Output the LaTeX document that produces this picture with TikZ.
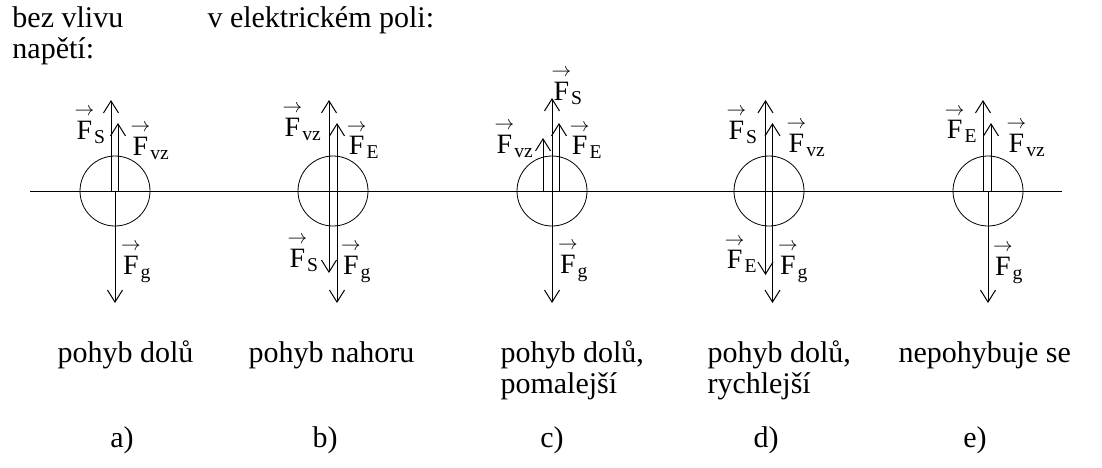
\documentclass[tikz,border=0pt]{standalone}
\usepackage{fix-cm}
\usepackage{amsmath}
\usepackage{fontspec}
\setmainfont{Liberation Serif}
\usetikzlibrary{arrows.meta}

\newcommand{\vF}[1]{${\overset{\scriptstyle\rightarrow}{\mathrm{F}}}_{\mathrm{#1}}$}

\begin{document}
\begin{tikzpicture}[x=1pt,y=-1pt,line width=1pt,
		every node/.style={font=\fontsize{30}{30}\selectfont,inner sep=0pt},
		lbl/.style={font=\fontsize{28}{28}\selectfont},
		ball/.style={draw,circle,minimum size=70pt,line width=0.8pt},
		force/.style={-{Straight Barb[length=12pt,width=15pt]}}]
		\useasboundingbox (0,0) rectangle (1102,467);
		\node[anchor=base west] (t1) at (12,27) {bez vlivu};
		\node[anchor=base west] (t2) at (12,58) {napětí:};
		\node[anchor=base west] (t3) at (207,27) {v elektrickém poli:};
		\coordinate (l0) at (30,191);
		\coordinate (l1) at (1062,191);
		\draw (l0) -- (l1);
		% a)
		\node[ball] (ka) at (115,191) {};
		\draw[force] ([xshift=-4pt]ka.center) -- ++(0,-91);
		\draw[force] ([xshift=3pt]ka.center) -- ++(0,-68);
		\draw[force] (ka.center) -- ++(0,112);
		\node[lbl] (sa) at (90,125) {\vF{S}};
		\node[lbl] (va) at (150,141) {\vF{vz}};
		\node[lbl] (ga) at (136,262) {\vF{g}};
		% b)
		\node[ball] (kb) at (333,191) {};
		\draw[force] ([xshift=-4pt]kb.center) -- ++(0,-91);
		\draw[force] ([xshift=4pt]kb.center) -- ++(0,-68);
		\draw[force] ([xshift=-4pt]kb.center) -- ++(0,82);
		\draw[force] ([xshift=4pt]kb.center) -- ++(0,112);
		\node[lbl] (vb) at (302,122) {\vF{vz}};
		\node[lbl] (eb) at (363,140) {\vF{E}};
		\node[lbl] (sb) at (303,253) {\vF{S}};
		\node[lbl] (gb) at (356,262) {\vF{g}};
		% c)
		\node[ball] (kc) at (552,191) {};
		\draw[force] (kc.center) -- ++(0,-93);
		\draw[force] ([xshift=7pt]kc.center) -- ++(0,-68);
		\draw[force] ([xshift=-9pt]kc.center) -- ++(0,-53);
		\draw[force] (kc.center) -- ++(0,112);
		\node[lbl] (sc) at (567,86) {\vF{S}};
		\node[lbl] (vc) at (514,139) {\vF{vz}};
		\node[lbl] (ec) at (586,140) {\vF{E}};
		\node[lbl] (gc) at (573,261) {\vF{g}};
		% d)
		\node[ball] (kd) at (769,191) {};
		\draw[force] ([xshift=-3.5pt]kd.center) -- ++(0,-91);
		\draw[force] ([xshift=3.5pt]kd.center) -- ++(0,-68);
		\draw[force] ([xshift=-3.5pt]kd.center) -- ++(0,84);
		\draw[force] ([xshift=3.5pt]kd.center) -- ++(0,112);
		\node[lbl] (sd) at (742,125) {\vF{S}};
		\node[lbl] (vd) at (806,138) {\vF{vz}};
		\node[lbl] (ed) at (741,254) {\vF{E}};
		\node[lbl] (gd) at (793,262) {\vF{g}};
		% e)
		\node[ball] (ke) at (988,191) {};
		\draw[force] ([xshift=-5pt]ke.center) -- ++(0,-91);
		\draw[force] ([xshift=3pt]ke.center) -- ++(0,-68);
		\draw[force] (ke.center) -- ++(0,112);
		\node[lbl] (ee) at (961,124) {\vF{E}};
		\node[lbl] (ve) at (1026,138) {\vF{vz}};
		\node[lbl] (ge) at (1008,263) {\vF{g}};
		% popisky
		\node[anchor=base west] (pa) at (57,362) {pohyb dolů};
		\node[anchor=base west] (pb) at (248,362) {pohyb nahoru};
		\node[anchor=base west] (pc) at (500,362) {pohyb dolů,};
		\node[anchor=base west] (pc2) at (500,393) {pomalejší};
		\node[anchor=base west] (pd) at (707,362) {pohyb dolů,};
		\node[anchor=base west] (pd2) at (707,393) {rychlejší};
		\node[anchor=base west] (pe) at (898,362) {nepohybuje se};
		\node[anchor=base] (na) at (122,447) {a)};
		\node[anchor=base] (nb) at (325,447) {b)};
		\node[anchor=base] (nc) at (552,447) {c)};
		\node[anchor=base] (nd) at (766,447) {d)};
		\node[anchor=base] (ne) at (975,447) {e)};
	\end{tikzpicture}
\end{document}
